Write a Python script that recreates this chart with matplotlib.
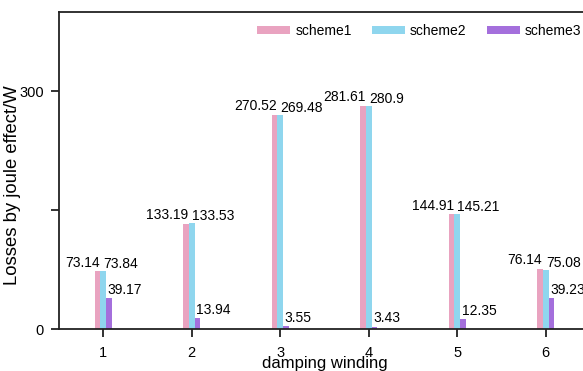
import matplotlib
matplotlib.use('Agg')
import matplotlib.pyplot as plt
import numpy as np

plt.rcParams['font.family'] = ['Liberation Sans', 'DejaVu Sans']

windings = [1, 2, 3, 4, 5, 6]
scheme1 = [73.14, 133.19, 270.52, 281.61, 144.91, 76.14]
scheme2 = [73.84, 133.53, 269.48, 280.9, 145.21, 75.08]
scheme3 = [39.17, 13.94, 3.55, 3.43, 12.35, 39.23]

c1 = '#E9A3C0'
c2 = '#8FD6EE'
c3 = '#A46FDC'

fig = plt.figure(figsize=(5.83, 3.71), dpi=100)
ax = fig.add_axes([59 / 583, 41.7 / 371, 531 / 583, 317.6 / 371])

x = np.array(windings, dtype=float)
w = 0.064
ax.bar(x - w, scheme1, w, color=c1, label='scheme1')
ax.bar(x, scheme2, w, color=c2, label='scheme2')
ax.bar(x + w, scheme3, w, color=c3, label='scheme3')

fs = 10
for xi, a, b, c in zip(x, scheme1, scheme2, scheme3):
    ax.annotate(f'{a:g}', (xi - w + 0.025, a), xytext=(0, 1), textcoords='offset points',
                ha='right', va='bottom', fontsize=fs)
    ax.annotate(f'{b:g}', (xi, b), xytext=(0, 0), textcoords='offset points',
                ha='left', va='bottom', fontsize=fs)
    ax.annotate(f'{c:g}', (xi + w - 0.015, c), xytext=(0, 1), textcoords='offset points',
                ha='left', va='bottom', fontsize=fs)

ax.set_xlim(0.5, 6.5)
ax.set_ylim(0, 400)
ax.set_xticks(windings)
ax.set_yticks([0, 150, 300])
ax.set_yticklabels(['0', '', '300'])
ax.tick_params(axis='both', direction='out', length=6, width=1.3, labelsize=10.5, color='#222222')
ax.tick_params(axis='x', pad=6)
ax.tick_params(axis='y', pad=5)

for s in ['left', 'top', 'bottom']:
    ax.spines[s].set_linewidth(1.3)
    ax.spines[s].set_color('#222222')
ax.spines['right'].set_visible(False)

ax.set_xlabel('damping winding', fontsize=12, labelpad=-3)
ax.set_ylabel('Losses by joule effect/W', fontsize=13.3)
ax.yaxis.set_label_coords(-0.072, 0.455)

fig.legend(loc='upper left', bbox_to_anchor=(257 / 583, 1 - 24 / 371), ncol=3, frameon=False,
           fontsize=fs, handlelength=2.4, handleheight=0.45, columnspacing=1.45,
           handletextpad=0.35, borderpad=0, borderaxespad=0)

fig.savefig('out.png', dpi=100)
